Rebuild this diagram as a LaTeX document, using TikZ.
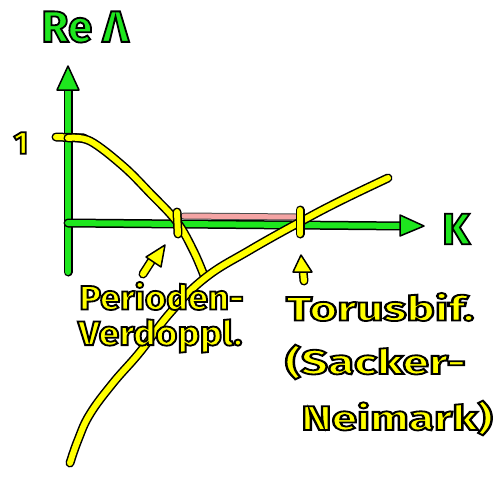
\documentclass[tikz,border=0pt]{standalone}
\usepackage{fontspec}
\setmainfont{Fira Sans}
\definecolor{markgreen}{RGB}{30,230,30}
\definecolor{markyellow}{RGB}{255,255,0}
\definecolor{markpink}{RGB}{244,164,164}
\tikzset{
  greenpen/.style={draw=markgreen, line width=6pt, line cap=round, line join=round,
    preaction={draw=black, line width=9pt, line cap=round, line join=round}},
  yellowpen/.style={draw=markyellow, line width=6pt, line cap=round, line join=round,
    preaction={draw=black, line width=9pt, line cap=round, line join=round}},
  pinkpen/.style={draw=markpink, line width=5pt, line cap=round,
    preaction={draw=black!70, line width=7pt, line cap=round}},
  greenhead/.style={fill=markgreen, draw=black, line width=1.5pt, line join=round},
  yellowhead/.style={fill=markyellow, draw=black, line width=1.5pt, line join=round},
  greentext/.style={inner sep=0pt, font=\bfseries\fontsize{44}{46}\selectfont},
  yellowtext/.style={inner sep=0pt, anchor=west, transform shape, font=\bfseries\fontsize{34}{36}\selectfont},
}
% filled letters with a black rim (text render mode 2)
\newcommand{\rimword}[2]{{\color{#1}\special{pdf:literal direct 0 0 0 RG 2 Tr 1.8 w}#2\special{pdf:literal direct 0 Tr}}}
\begin{document}
\begin{tikzpicture}[x=1pt,y=-1pt]
\useasboundingbox (0,0) rectangle (498,477);
% axes
\coordinate (origin) at (68,223);
\coordinate (ybottom) at (68,272);
\coordinate (ytip) at (68,66);
\coordinate (xtip) at (424,226);
\draw[greenpen] (ybottom) -- (68,86);
\draw[greenpen] (origin) -- (405,226);
\filldraw[greenhead] (ytip) -- (79,90) -- (57,90) -- cycle;
\filldraw[greenhead] (xtip) -- (400,215) -- (400,236) -- cycle;
% unstable range
\draw[pinkpen] (184,216) -- (296,217);
% branch starting at 1
\draw[yellowpen] (56,137) -- (84,138);
\draw[yellowpen] plot[smooth, tension=0.6] coordinates {(68,138) (90,141) (123,166) (150,193) (177,222) (194,252) (205,278)};
% branch through the torus point
\draw[yellowpen] plot[smooth, tension=0.7] coordinates {(388,178) (340,201) (300,222) (250,250) (205,278) (170,313) (140,352) (113,383) (90,414) (78,440) (70,463)};
% crossing marks
\draw[yellowpen] (177,212) -- (178,234);
\draw[yellowpen] (300,210) -- (300,234);
% small pointers
\draw[yellowpen] (143,274) -- (152,260);
\filldraw[yellowhead] (165,245) -- (161,267) -- (146,257) -- cycle;
\draw[yellowpen] (304,281) -- (303,270);
\filldraw[yellowhead] (301,255) -- (312,272) -- (293,272) -- cycle;
% labels
\node[greentext] (relambda) at (85,27) {\rimword{markgreen}{Re Λ}};
\node[greentext] (kappa) at (456,229) {\rimword{markgreen}{K}};
\node[greentext, font=\bfseries\fontsize{32}{34}\selectfont] (one) at (21,143) {\rimword{markyellow}{1}};
\node[yellowtext, xscale=1.07] (perioden) at (79,296) {\rimword{markyellow}{Perioden-}};
\node[yellowtext, xscale=1.1] (verdoppl) at (78,336) {\rimword{markyellow}{Verdoppl.}};
\node[yellowtext, xscale=1.4] (torus) at (286,307) {\rimword{markyellow}{Torusbif.}};
\node[yellowtext, xscale=1.4] (sacker) at (285,362) {\rimword{markyellow}{(Sacker-}};
\node[yellowtext, xscale=1.35] (neimark) at (301,418) {\rimword{markyellow}{Neimark)}};
\end{tikzpicture}
\end{document}
